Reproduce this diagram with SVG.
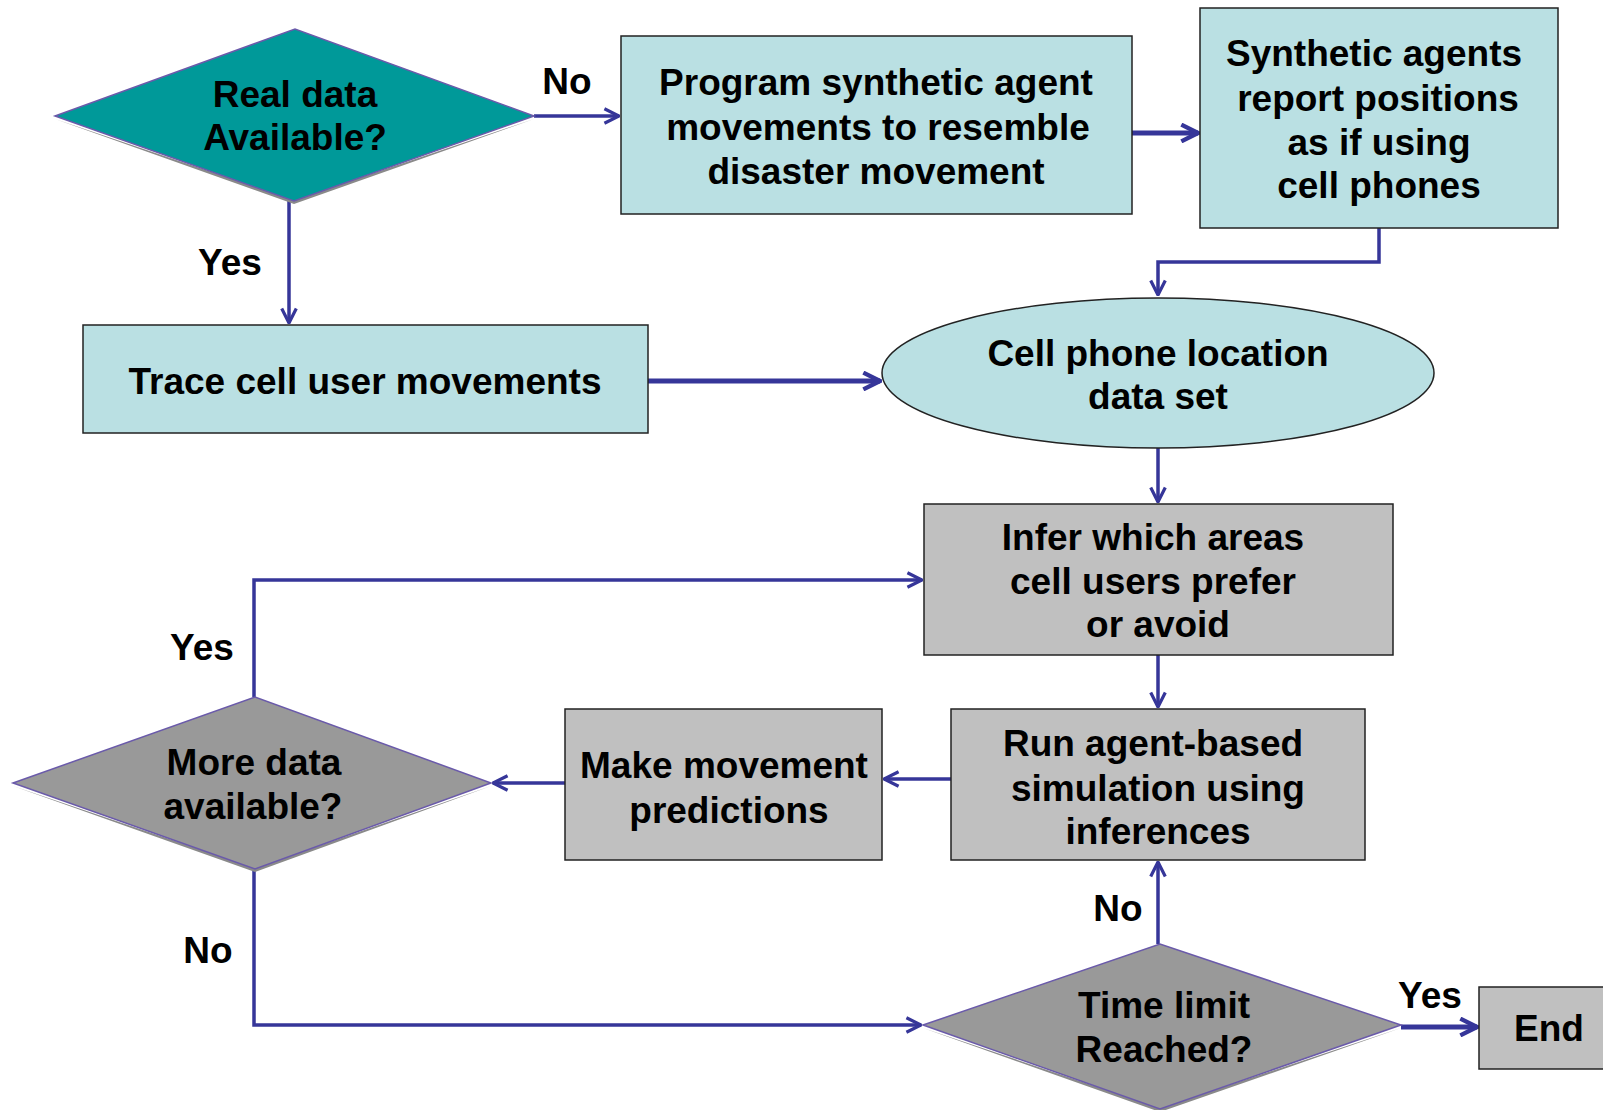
<svg xmlns="http://www.w3.org/2000/svg" width="1603" height="1110" viewBox="0 0 1603 1110">
<defs>
<style>
.t{font-family:"Liberation Sans",Arial,sans-serif;font-weight:bold;font-size:37px;fill:#000;text-anchor:middle}
.lb{font-family:"Liberation Sans",Arial,sans-serif;font-weight:bold;font-size:37px;fill:#000;text-anchor:middle}
.blue{fill:#BAE0E3;stroke:#222;stroke-width:1.5}
.gray{fill:#C0C0C0;stroke:#222;stroke-width:1.5}
.dteal{fill:#009999;stroke:#6A5AAA;stroke-width:1.5}
.dgray{fill:#999999;stroke:#6A5AAA;stroke-width:1.5}
.sh{fill:#8A8A8A}
.c{fill:none;stroke:#363699;stroke-width:3.5}
.ct{fill:none;stroke:#363699;stroke-width:5}
</style>
<marker id="ah" viewBox="0 0 12 12" refX="11" refY="6" markerWidth="5" markerHeight="5" markerUnits="strokeWidth" orient="auto">
<path d="M1,1 L11,6 L1,11" fill="none" stroke="#363699" stroke-width="2.2"/>
</marker>
<marker id="ah2" viewBox="0 0 12 12" refX="11" refY="6" markerWidth="4" markerHeight="4" markerUnits="strokeWidth" orient="auto">
<path d="M1,1 L11,6 L1,11" fill="none" stroke="#363699" stroke-width="2.6"/>
</marker>
</defs>

<g id="connectors">
<path class="c" d="M534,116 L619,116" marker-end="url(#ah)"/>
<path class="c" d="M289,201 L289,323" marker-end="url(#ah)"/>
<path class="ct" d="M1132,133 L1198,133" marker-end="url(#ah2)"/>
<path class="c" d="M1379,228 L1379,262 L1158,262 L1158,295" marker-end="url(#ah)"/>
<path class="ct" d="M648,381 L880,381" marker-end="url(#ah2)"/>
<path class="c" d="M1158,448 L1158,502" marker-end="url(#ah)"/>
<path class="c" d="M254,697 L254,580 L922,580" marker-end="url(#ah)"/>
<path class="c" d="M1158,655 L1158,707" marker-end="url(#ah)"/>
<path class="c" d="M951,779 L884,779" marker-end="url(#ah)"/>
<path class="c" d="M565,783 L493,783" marker-end="url(#ah)"/>
<path class="c" d="M254,869 L254,1025 L921,1025" marker-end="url(#ah)"/>
<path class="c" d="M1158,944 L1158,862" marker-end="url(#ah)"/>
<path class="ct" d="M1401,1027 L1477,1027" marker-end="url(#ah2)"/>
<text class="lb" x="567" y="94">No</text>
<text class="lb" x="230" y="275">Yes</text>
<text class="lb" x="202" y="660">Yes</text>
<text class="lb" x="208" y="963">No</text>
<text class="lb" x="1118" y="921">No</text>
<text class="lb" x="1430" y="1008">Yes</text>
</g>

<g id="real-data">
<polygon class="sh" points="55,119 294,204 534,119 294,200"/>
<polygon class="dteal" points="55,116 295,29 534,116 294,201"/>
<text class="t" x="295" y="107">Real data</text>
<text class="t" x="295" y="150">Available?</text>
</g>

<g id="program-synthetic">
<rect class="blue" x="621" y="36" width="511" height="178"/>
<text class="t" x="876" y="95">Program synthetic agent</text>
<text class="t" x="878" y="140">movements to resemble</text>
<text class="t" x="876" y="184">disaster movement</text>
</g>

<g id="synthetic-agents">
<rect class="blue" x="1200" y="8" width="358" height="220"/>
<text class="t" x="1374" y="66">Synthetic agents</text>
<text class="t" x="1378" y="111">report positions</text>
<text class="t" x="1379" y="155">as if using</text>
<text class="t" x="1379" y="198">cell phones</text>
</g>

<g id="trace">
<rect class="blue" x="83" y="325" width="565" height="108"/>
<text class="t" x="365" y="394">Trace cell user movements</text>
</g>

<g id="dataset">
<ellipse class="blue" cx="1158" cy="373" rx="276" ry="75"/>
<text class="t" x="1158" y="366">Cell phone location</text>
<text class="t" x="1158" y="409">data set</text>
</g>

<g id="infer">
<rect class="gray" x="924" y="504" width="469" height="151"/>
<text class="t" x="1153" y="550">Infer which areas</text>
<text class="t" x="1153" y="594">cell users prefer</text>
<text class="t" x="1158" y="637">or avoid</text>
</g>

<g id="run-sim">
<rect class="gray" x="951" y="709" width="414" height="151"/>
<text class="t" x="1153" y="756">Run agent-based</text>
<text class="t" x="1158" y="801">simulation using</text>
<text class="t" x="1158" y="844">inferences</text>
</g>

<g id="predictions">
<rect class="gray" x="565" y="709" width="317" height="151"/>
<text class="t" x="724" y="778">Make movement</text>
<text class="t" x="729" y="823">predictions</text>
</g>

<g id="more-data">
<polygon class="sh" points="13,786 255,872 491,786 255,868"/>
<polygon class="dgray" points="13,783 255,697 491,783 255,869"/>
<text class="t" x="254" y="775">More data</text>
<text class="t" x="253" y="819">available?</text>
</g>

<g id="time-limit">
<polygon class="sh" points="923,1028 1160,1112 1401,1028 1160,1108"/>
<polygon class="dgray" points="923,1025 1160,944 1401,1025 1160,1109"/>
<text class="t" x="1164" y="1018">Time limit</text>
<text class="t" x="1164" y="1062">Reached?</text>
</g>

<g id="end">
<rect class="gray" x="1479" y="987" width="130" height="82"/>
<text class="t" x="1549" y="1041">End</text>
</g>
</svg>
